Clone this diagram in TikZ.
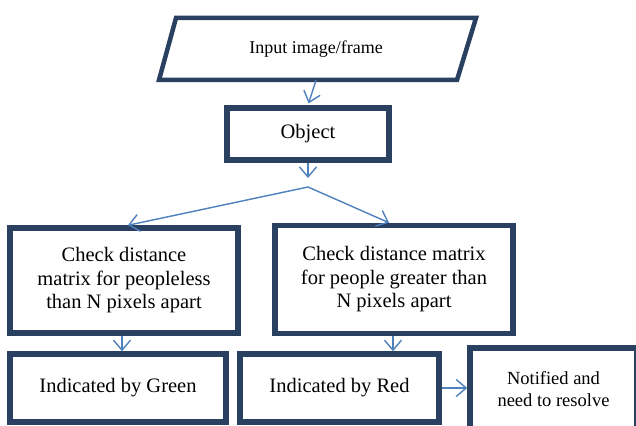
\documentclass[tikz,border=0pt]{standalone}
\usepackage{fontspec}
\setmainfont{Liberation Serif}
\usetikzlibrary{arrows.meta}

\definecolor{boxline}{RGB}{41,64,96}
\definecolor{flow}{RGB}{79,129,189}

\tikzset{
  stepbox/.style={draw=boxline, line width=5.5pt, fill=white, rectangle,
    align=center, inner sep=0pt, font=\fontsize{20.5}{23.5}\selectfont},
  arr/.style={draw=flow, line width=1.4pt,
    -{Straight Barb[length=10pt,width=17pt,line width=1.4pt]}}
}

\begin{document}
\begin{tikzpicture}[x=1pt,y=-1pt]
  \useasboundingbox (0,0) rectangle (636,425);
  \clip (0,0) rectangle (636,425);
  \fill[white] (0,0) rectangle (636,425);

  % input parallelogram
  \draw[boxline, line width=4.5pt, line join=miter]
    (176,18) -- (476,18) -- (457,80) -- (159,80) -- cycle;
  \node[inner sep=0pt, minimum width=300pt, minimum height=62pt,
        font=\fontsize{18}{21}\selectfont] (in) at (316,49) {Input image/frame};

  % process boxes
  \node[stepbox, minimum width=162pt, minimum height=52pt] (obj) at (308,134) {Object};

  \node[stepbox, minimum width=228pt, minimum height=105pt] (chkL) at (124,280.5)
    {Check distance\\matrix for peopleless\\than N pixels apart};
  \node[stepbox, minimum width=238pt, minimum height=108pt] (chkR) at (394,279.5)
    {Check distance matrix\\for people greater than\\N pixels apart};

  \node[stepbox, minimum width=216pt, minimum height=68pt] (green) at (118,388)
    {Indicated by Green};
  \node[stepbox, minimum width=199pt, minimum height=68pt] (red) at (339.5,388)
    {Indicated by Red};
  \node[stepbox, minimum width=167pt, minimum height=82pt,
        font=\fontsize{18.5}{22}\selectfont] (notif) at (553.5,389)
    {Notified and\\need to resolve};

  % connectors
  \coordinate (tipO) at (308,178);
  \coordinate (split) at (308,187);

  \draw[arr, shorten >=2pt] (in.south) -- (obj.north);
  \draw[arr] (obj.south) -- (tipO);
  \draw[arr] (split) -- (128,0 |- chkL.north);
  \draw[arr] (split) -- (389,0 |- chkR.north);
  \draw[arr] (122,0 |- chkL.south) -- (122,0 |- green.north);
  \draw[arr] (393,0 |- chkR.south) -- (393,0 |- red.north);
  \draw[arr] (red.east) -- (notif.west |- red.east);
\end{tikzpicture}
\end{document}
